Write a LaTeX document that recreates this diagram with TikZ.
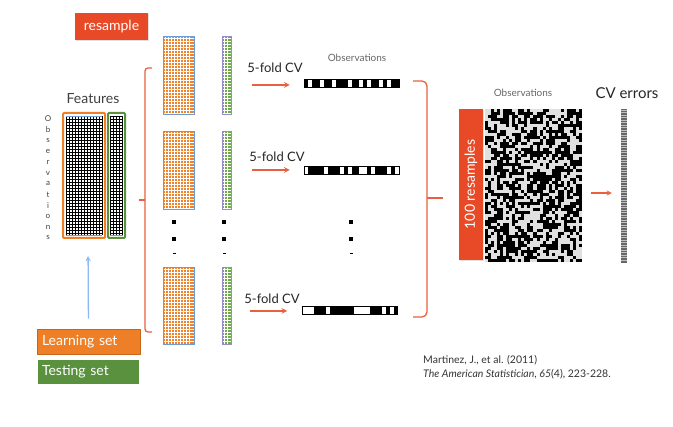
\documentclass[tikz,border=0pt]{standalone}
\usepackage{fontspec}
\setmainfont{Lato}
\usetikzlibrary{positioning}
\usetikzlibrary{shadows}
\tikzset{>=stealth}
\definecolor{resred}{HTML}{E84A27}
\definecolor{brred}{HTML}{E8603F}
\definecolor{learnor}{HTML}{EE7F26}
\definecolor{learnedge}{HTML}{C8661C}
\definecolor{cellor}{HTML}{F0832A}
\definecolor{testgr}{HTML}{5A913E}
\definecolor{cellgr}{HTML}{6FA850}
\definecolor{edgeblue}{HTML}{6C9BD6}
\definecolor{edgepurple}{HTML}{9A8CC4}
\definecolor{arrblue}{HTML}{8CB9F2}
\tikzset{
	% coloured boxes with white text
	redtag/.style={fill=resred, text=white, font=\fontsize{14}{16}\selectfont, inner sep=0pt,
		drop shadow={opacity=0.25, shadow xshift=1pt, shadow yshift=-1.5pt}},
	settag/.style={text=white, font=\fontsize{14}{16}\selectfont, inner sep=5pt,
		text width=93pt, align=left, minimum height=25pt},
	% labels
	foldlabel/.style={font=\fontsize{13}{15}\selectfont, text=black!85},
	obslabel/.style={font=\fontsize{10}{12}\selectfont, text=black!60},
	% lines
	redarrow/.style={->, draw=brred, line width=1.5pt},
	bracket/.style={draw=brred, line width=1.3pt, rounded corners=3pt},
	barcode/.style={draw=black, line width=0.5pt, minimum width=95pt, minimum height=8pt, inner sep=0pt},
	cellline/.style={white, line width=0.4pt},
}

\begin{document}
\begin{tikzpicture}[x=1pt,y=-1pt]
	\useasboundingbox (0,0) rectangle (673,427);
	
	\node[redtag, minimum width=73pt, minimum height=27pt] (resample) at (111.5,26.5) {resample};
	
	% full data set
	\node[font=\fontsize{14}{16}\selectfont, text=black!75] (features) at (93,99) {Features};
	\fill[white] (63,113) rectangle (125,238);
	\foreach \x in {66,69,...,102} \draw[black, line width=0.85pt] (\x,116) -- (\x,235);
	\foreach \x in {110,113,...,123} \draw[black, line width=0.85pt] (\x,116) -- (\x,235);
	\foreach \y in {116,119,...,235} {
		\draw[black, line width=0.85pt] (66,\y) -- (102,\y);
		\draw[black, line width=0.85pt] (110,\y) -- (123,\y);
	}
	\draw[edgeblue, line width=0.6pt] (66,116) -- (102,116) (66,235) -- (102,235) (110,235) -- (123,235);
	\draw[learnor, line width=2pt, rounded corners=1pt] (63,113) rectangle (105,238);
	\draw[testgr, line width=2pt, rounded corners=1pt] (108,113) rectangle (125,238);
	\coordinate (featbottom) at (88,238);
	\foreach \c [count=\i] in {O,b,s,e,r,v,a,t,i,o,n,s}
		\node[font=\fontsize{8}{8}\selectfont, text=black!75, inner sep=0pt] (obs\i) at (48,119+10.8*\i-10.8) {\c};
	
	% learning and testing sets
	\node[settag, fill=learnor, draw=learnedge, line width=0.8pt] (learn) at (88.5,341.5) {Learning set};
	\node[settag, fill=testgr, draw=white, line width=1.5pt,
		drop shadow={opacity=0.2, shadow xshift=0.5pt, shadow yshift=-1pt}] (test) at (88.5,372) {Testing set};
	\draw[->, arrblue, line width=1.3pt, shorten <=10pt, shorten >=18pt] (learn.north) -- (featbottom);
	
	% resampled sets
	\foreach \t/\b in {36/114, 131/209, 267/344} {
		\fill[cellor] (163,\t) rectangle (194,\b);
		\fill[cellgr] (222,\t) rectangle (231,\b);
		\foreach \x in {165.5,168.5,...,192} \draw[cellline] (\x,\t) -- (\x,\b);
		\foreach \x in {224.5,227.5,...,230} \draw[cellline] (\x,\t) -- (\x,\b);
		\pgfmathsetmacro{\tt}{\t+2.5}
		\pgfmathsetmacro{\ttt}{\t+5.5}
		\foreach \y in {\tt,\ttt,...,\b} \draw[cellline] (163,\y) -- (194,\y) (222,\y) -- (231,\y);
		\draw[edgeblue, line width=0.6pt] (163,\t) rectangle (194,\b);
		\draw[edgepurple, line width=0.6pt] (222,\t) rectangle (231,\b);
	}
	
	% vertical dots
	\foreach \x in {174,224,351} {
		\fill (\x-1.8,220) rectangle (\x+1.8,223.6);
		\fill (\x-1.8,237) rectangle (\x+1.8,240.6);
		\fill (\x-1.5,253.5) rectangle (\x+1.5,254.5);
	}
	
	% left bracket
	\draw[bracket] (152,68) -- (145,68) -- (145,332) -- (152,332);
	\draw[brred, line width=1.3pt] (145,200) -- (139,200);
	
	% 5-fold CV rows
	\node[foldlabel] (fold1) at (275,68) {5-fold CV};
	\node[foldlabel] (fold2) at (277,157) {5-fold CV};
	\node[foldlabel] (fold3) at (272,299) {5-fold CV};
	\node[obslabel] (obstop) at (357,58) {Observations};
	
	\node[barcode] (bc1) at (351.5,83) {};
	\node[barcode] (bc2) at (351.5,170) {};
	\node[barcode] (bc3) at (350,310.5) {};
	\foreach \b [count=\i] in {1,0,1,1,0,1,1,0,1,1,1,0,1,1,0,1,0,1,1,0,1,0,1,1} {
		\ifnum\b=1 \fill (304+3.96*\i-3.96,79) rectangle (304+3.96*\i,87); \fi
	}
	\foreach \b [count=\i] in {0,1,1,1,1,0,1,1,1,0,1,0,1,1,0,0,1,0,1,1,1,0,1,0} {
		\ifnum\b=1 \fill (304+3.96*\i-3.96,166) rectangle (304+3.96*\i,174); \fi
	}
	\foreach \b [count=\i] in {0,0,0,1,1,1,0,1,1,1,1,1,1,0,0,0,0,1,1,1,0,1,0,1} {
		\ifnum\b=1 \fill (302.5+3.96*\i-3.96,306.5) rectangle (302.5+3.96*\i,314.5); \fi
	}
	
	\draw[redarrow, shorten >=14pt] (252,85) -- (bc1.west |- 0,85);
	\draw[redarrow, shorten >=14pt] (252,170) -- (bc2.west);
	\draw[redarrow, shorten >=15pt] (250,311) -- (bc3.west |- 0,311);
	
	% right bracket
	\draw[bracket, rounded corners=5pt] (413,81) -- (427,81) -- (427,317) -- (413,317);
	\draw[brred, line width=1.3pt] (427,198) -- (443,198);
	
	% resample by observation matrix
	\node[obslabel] (obsmat) at (523,93) {Observations};
	\node[fill=black!12, minimum width=97pt, minimum height=153pt, inner sep=0pt] (mat) at (533.5,185.5) {};
	\pgfmathsetseed{11}
	\foreach \r in {0,...,50}
		\foreach \c in {0,...,31} {
			\pgfmathparse{rnd<0.52 ? 1 : 0}
			\ifnum\pgfmathresult=1 \fill (485+3.03*\c,109+3*\r) rectangle (485+3.03*\c+3.03,109+3*\r+3); \fi
		}
	\node[redtag, rotate=90, minimum width=151pt, minimum height=24pt] (resamples) at (471,184.5) {100 resamples};
	
	% CV errors
	\node[fill=black!60, minimum width=6pt, minimum height=154pt, inner sep=0pt] (errbar) at (624,186) {};
	\foreach \y in {110,112.5,...,262} \draw[white!75!black, line width=0.5pt] (621,\y) -- (627,\y);
	\node[font=\fontsize{15}{17}\selectfont, text=black!85] (cverr) at (627,93) {CV errors};
	\draw[redarrow, line width=1.3pt, shorten <=9pt, shorten >=9pt] (mat.east |- 0,193) -- (errbar.west |- 0,193);
	
	% reference
	\node[anchor=north west, align=left, inner sep=0pt, font=\fontsize{10.5}{14}\selectfont, text=black!80] (cite) at (423,355)
		{Martinez, J., et al. (2011)\\ \textit{The American Statistician}, \textit{65}(4), 223-228.};
\end{tikzpicture}
\end{document}
